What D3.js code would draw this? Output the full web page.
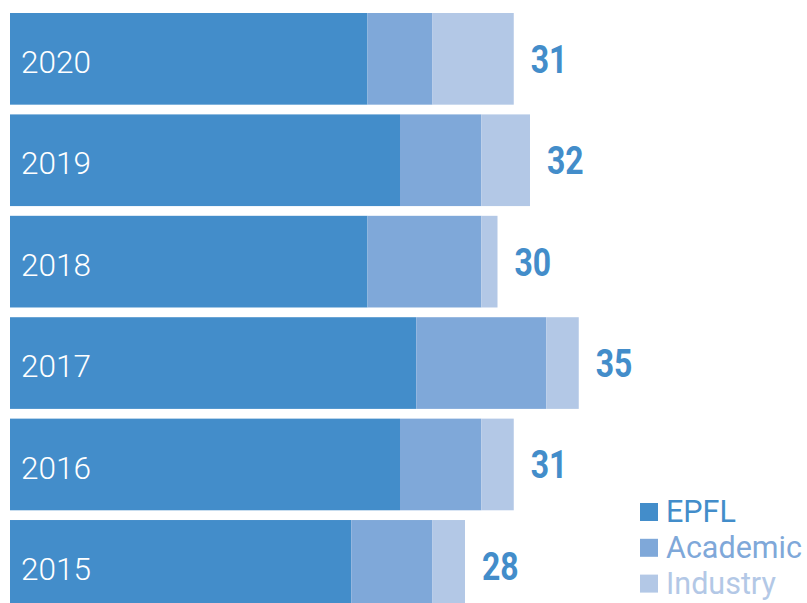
<!DOCTYPE html>
<html>
<head>
<meta charset="utf-8">
<script src="https://cdn.jsdelivr.net/npm/d3@7"></script>
<style>
  html, body { margin: 0; padding: 0; background: #fff; overflow: hidden; }
  svg { display: block; }
</style>
</head>
<body>
<svg id="chart" width="807" height="603"></svg>
<script>
// Stacked counts per year, by origin
const years    = ["2020", "2019", "2018", "2017", "2016", "2015"];
const epfl     = [22, 24, 22, 25, 24, 21];
const academic = [4, 5, 7, 8, 5, 5];
const industry = [5, 3, 1, 2, 2, 2];
const totals   = [31, 32, 30, 35, 31, 28];
const seriesNames = ["EPFL", "Academic", "Industry"];
const seriesColors = ["#438dca", "#7fa8d9", "#b3c8e6"];

const svg = d3.select("#chart");

const rows = years.map((y, i) => ({
  year: y, EPFL: epfl[i], Academic: academic[i], Industry: industry[i], total: totals[i]
}));

const x = d3.scaleLinear().domain([0, 40]).range([10, 660]);
const y = d3.scaleBand().domain(years).range([13, 611.7]).paddingInner(0.096).paddingOuter(0).align(0);
const color = d3.scaleOrdinal().domain(seriesNames).range(seriesColors);

const stacked = d3.stack().keys(seriesNames)(rows);

svg.append("g")
  .selectAll("g")
  .data(stacked)
  .join("g")
  .attr("fill", d => color(d.key))
  .selectAll("rect")
  .data(d => d)
  .join("rect")
  .attr("x", d => x(d[0]))
  .attr("width", d => x(d[1]) - x(d[0]))
  .attr("y", d => y(d.data.year))
  .attr("height", y.bandwidth());

// Year names inside the bars
svg.append("g")
  .selectAll("text")
  .data(rows)
  .join("text")
  .attr("x", 21)
  .attr("y", d => y(d.year) + 60)
  .attr("fill", "#ffffff")
  .style("font-family", "Roboto, 'Liberation Sans', sans-serif")
  .style("font-weight", 300)
  .style("font-size", "31.5px")
  .text(d => d.year);

// Totals to the right of each bar, narrowed to a condensed look
svg.append("g")
  .selectAll("text")
  .data(rows)
  .join("text")
  .attr("transform", d => `translate(${x(d.total) + 17}, ${y(d.year) + y.bandwidth() / 2 + 14}) scale(0.82, 1)`)
  .attr("fill", seriesColors[0])
  .style("font-family", "Roboto, 'Liberation Sans', sans-serif")
  .style("font-weight", 700)
  .style("font-size", "39px")
  .text(d => d.total);

// Legend
const legend = svg.append("g")
  .selectAll("g")
  .data(seriesNames)
  .join("g")
  .attr("transform", (d, i) => `translate(640, ${503 + i * 35.8})`);

legend.append("rect")
  .attr("width", 18)
  .attr("height", 18)
  .attr("fill", d => color(d));

legend.append("text")
  .attr("x", 26)
  .attr("y", 19)
  .attr("fill", d => color(d))
  .style("font-family", "Roboto, 'Liberation Sans', sans-serif")
  .style("font-size", "30.5px")
  .text(d => d);
</script>
</body>
</html>
